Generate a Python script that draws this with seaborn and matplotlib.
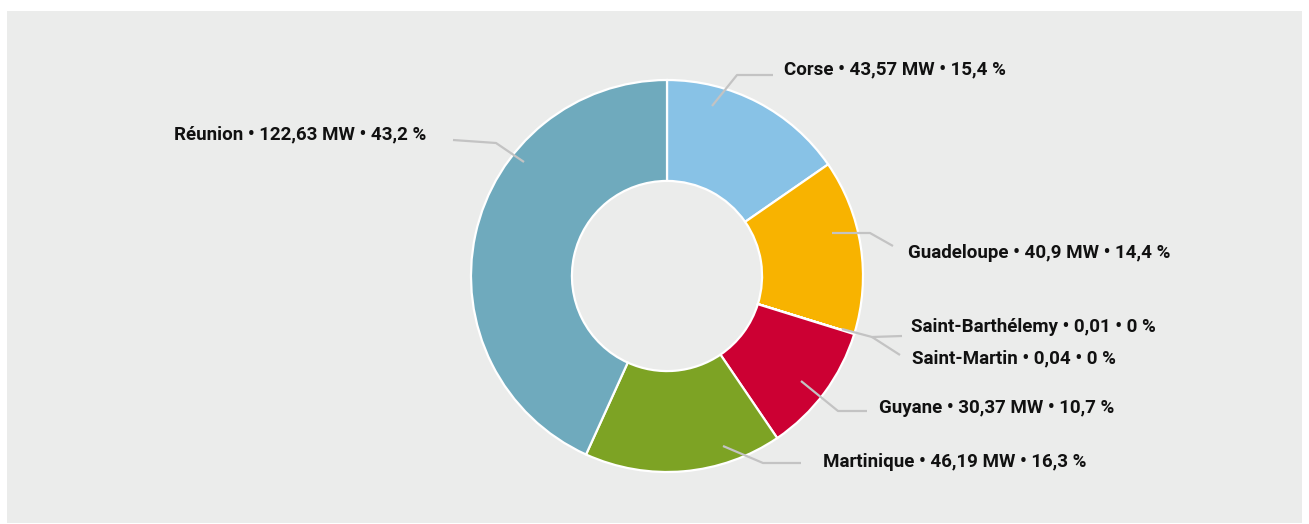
import matplotlib
matplotlib.use("Agg")
import matplotlib.pyplot as plt
import seaborn as sns
from matplotlib.patches import Rectangle

# Data
regions = ["Corse", "Guadeloupe", "Saint-Barthélemy", "Saint-Martin",
           "Guyane", "Martinique", "Réunion"]
power_mw = [43.57, 40.9, 0.01, 0.04, 30.37, 46.19, 122.63]
power_txt = ["43,57 MW", "40,9 MW", "0,01", "0,04", "30,37 MW", "46,19 MW", "122,63 MW"]
share_txt = ["15,4 %", "14,4 %", "0 %", "0 %", "10,7 %", "16,3 %", "43,2 %"]
colors = ["#88c2e6", "#f8b300", "#9b59b6", "#555555", "#cc0033", "#7da324", "#6faabd"]

sns.set_theme(style="white")
plt.rcParams["font.family"] = ["Roboto", "DejaVu Sans"]

W, H = 1309, 524
fig = plt.figure(figsize=(W / 100, H / 100), dpi=100)
fig.patch.set_facecolor("white")
ax = fig.add_axes([0, 0, 1, 1])

def py(y):
    # pixel row (from top) -> axes y
    return H - y

cx, cy, R = 667, py(276), 196
ax.pie(power_mw, colors=colors, startangle=90, counterclock=False,
       center=(cx, cy), radius=R, frame=True,
       wedgeprops=dict(width=R * 0.515, edgecolor="white", linewidth=1.6))
ax.set_xlim(0, W)
ax.set_ylim(0, H)
ax.axis("off")

# grey panel
ax.add_patch(Rectangle((7, 1), W - 14, H - 12, facecolor="#ebeceb",
                       edgecolor="none", zorder=0))

# label placement (pixels from top-left): text anchor and connector polyline
label_pos = {
    "Corse": (784, 69, "left"),
    "Guadeloupe": (908, 253, "left"),
    "Saint-Barthélemy": (911, 327, "left"),
    "Saint-Martin": (912, 358, "left"),
    "Guyane": (879, 408, "left"),
    "Martinique": (823, 462, "left"),
    "Réunion": (426, 134, "right"),
}
connectors = {
    "Corse": [(712, 106), (737, 75), (773, 75)],
    "Guadeloupe": [(832, 233), (870, 233), (893, 246)],
    "Saint-Barthélemy": [(842, 329), (872, 337), (902, 336)],
    "Saint-Martin": [(872, 337), (900, 355)],
    "Guyane": [(801, 381), (838, 411), (867, 411)],
    "Martinique": [(723, 446), (763, 463), (801, 463)],
    "Réunion": [(524, 162), (496, 143), (453, 140)],
}

for name, pw, sh in zip(regions, power_txt, share_txt):
    pts = connectors[name]
    ax.plot([p[0] for p in pts], [py(p[1]) for p in pts],
            color="#c3c3c3", lw=1.6, solid_capstyle="butt", zorder=5)
    x, y, ha = label_pos[name]
    ax.text(x, py(y), f"{name} • {pw} • {sh}", ha=ha, va="center",
            fontsize=13.5, fontweight="bold", color="#111111", zorder=6)

fig.savefig("out.png", dpi=100, facecolor=fig.get_facecolor())
